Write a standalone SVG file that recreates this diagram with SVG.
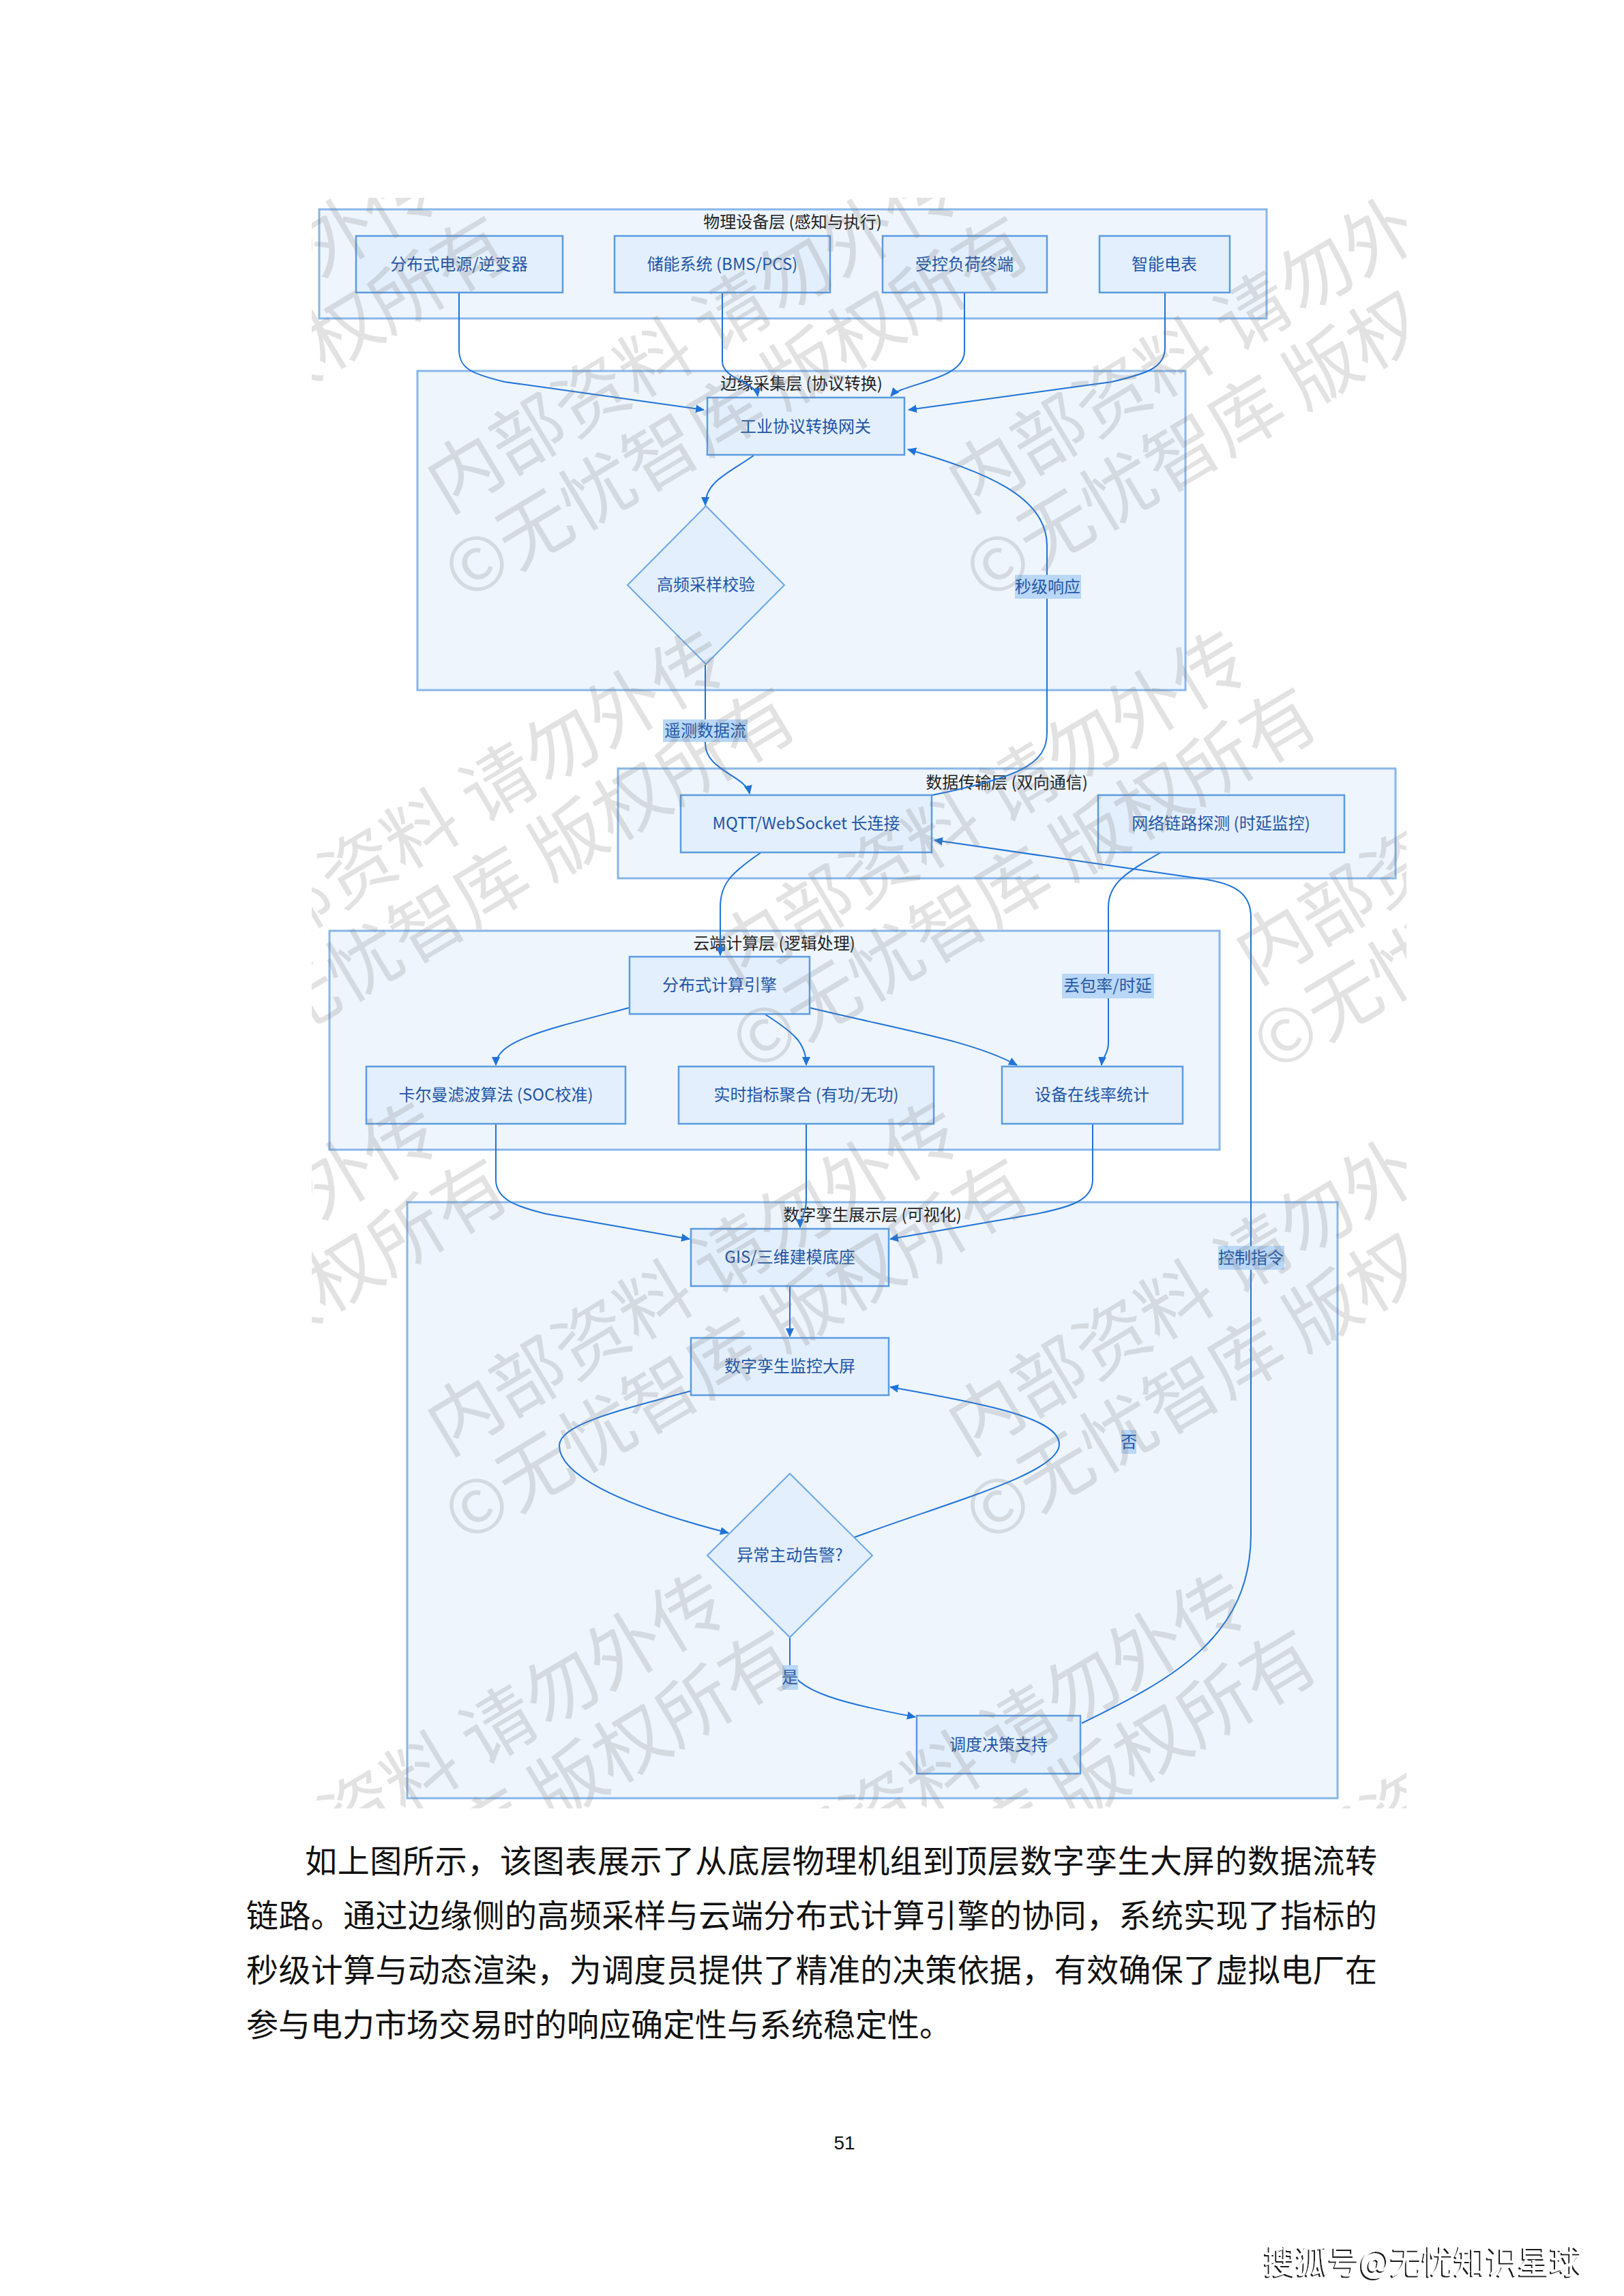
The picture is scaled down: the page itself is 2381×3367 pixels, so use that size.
<svg xmlns="http://www.w3.org/2000/svg" width="2381" height="3367" viewBox="0 0 2381 3367">
<style>
.layer{fill:#eef5fd;stroke:#88b6e9;stroke-width:3}
.node{fill:#e3effc;stroke:#5b9be1;stroke-width:2.5}
.dia{fill:#e3effc;stroke:#6aa7e6;stroke-width:2}
.lt{font-family:"Noto Sans CJK SC","Noto Sans",sans-serif;font-size:24px;fill:#222;text-anchor:middle}
.nt{font-family:"Noto Sans CJK SC","Noto Sans",sans-serif;font-size:24px;fill:#1f55a6;text-anchor:middle}
.edge{fill:none;stroke:#1f73d8;stroke-width:2;marker-end:url(#arr)}
.lbg{fill:#b9d7f6}
.lbt{font-family:"Noto Sans CJK SC","Noto Sans",sans-serif;font-size:24px;fill:#2457a6;text-anchor:middle}
.wm{font-family:"Noto Sans CJK SC",sans-serif;font-size:108px;fill:#7a7a7a;fill-opacity:0.22;text-anchor:middle}
.body{font-family:"Noto Sans CJK SC",sans-serif;font-size:47px;fill:#111}
</style>
<defs>
<marker id="arr" markerUnits="userSpaceOnUse" markerWidth="14" markerHeight="12" refX="12" refY="6" orient="auto">
<path d="M0,0 L13,6 L0,12 z" fill="#1f73d8"/>
</marker>
<clipPath id="wmclip"><rect x="457" y="290" width="1605" height="2362"/></clipPath>
<filter id="shadow" x="-5%" y="-20%" width="110%" height="150%">
<feDropShadow dx="-2" dy="2" stdDeviation="0.6" flood-color="#000" flood-opacity="0.9"/>
</filter>
</defs>
<rect x="0" y="0" width="2381" height="3367" fill="#ffffff"/>

<g id="layers">
<g id="layer-physical"><rect class="layer" x="468" y="307" width="1389" height="160"/><text class="lt" x="1162" y="334">物理设备层 (感知与执行)</text></g>
<g id="layer-edge"><rect class="layer" x="612" y="544" width="1126" height="468"/><text class="lt" x="1175" y="571">边缘采集层 (协议转换)</text></g>
<g id="layer-transport"><rect class="layer" x="906" y="1127" width="1140" height="161"/><text class="lt" x="1476" y="1156">数据传输层 (双向通信)</text></g>
<g id="layer-cloud"><rect class="layer" x="483" y="1365" width="1305" height="321"/><text class="lt" x="1135" y="1392">云端计算层 (逻辑处理)</text></g>
<g id="layer-twin"><rect class="layer" x="597" y="1763" width="1364" height="874"/><text class="lt" x="1279" y="1790">数字孪生展示层 (可视化)</text></g>
</g>

<g id="connectors">
<path class="edge" d="M673,429 L673,512 C673,540 690,548 740,560 L1032,601"/>
<path class="edge" d="M1059,429 L1059,530 C1059,556 1108,560 1111,581"/>
<path class="edge" d="M1414,429 L1414,515 C1414,558 1322,562 1306,581"/>
<path class="edge" d="M1708,429 L1708,510 C1708,540 1680,548 1630,560 L1332,601"/>
<path class="edge" d="M1105,668 C1068,694 1034,706 1034,741"/>
<path class="edge" d="M1034,975 L1034,1090 C1034,1130 1094,1138 1099,1164"/>
<path class="edge" d="M1367,1166 C1495,1140 1535,1120 1535,1075 L1535,800 C1535,728 1445,692 1331,659"/>
<path class="edge" d="M1116,1250 C1072,1280 1056,1296 1056,1330 L1056,1401"/>
<path class="edge" d="M1702,1250 C1650,1280 1625,1296 1625,1330 L1625,1530 C1625,1546 1616,1550 1615,1562"/>
<path class="edge" d="M1586,2527 C1720,2462 1834,2400 1834,2250 L1834,1345 C1834,1310 1810,1297 1770,1290 L1370,1232"/>
<path class="edge" d="M922,1478 C800,1510 727,1526 727,1562"/>
<path class="edge" d="M1121,1487 C1165,1515 1182,1530 1182,1562"/>
<path class="edge" d="M1188,1478 C1320,1510 1425,1526 1491,1562"/>
<path class="edge" d="M727,1648 L727,1730 C727,1760 760,1770 800,1780 L1011,1817"/>
<path class="edge" d="M1182,1648 L1182,1760 C1182,1780 1173,1785 1173,1800"/>
<path class="edge" d="M1602,1648 L1602,1730 C1602,1760 1570,1770 1520,1780 L1305,1817"/>
<path class="edge" d="M1158,1886 L1158,1960"/>
<path class="edge" d="M1012,2040 C900,2070 820,2090 820,2120 C820,2160 900,2205 1068,2248"/>
<path class="edge" d="M1251,2255 C1400,2200 1553,2160 1553,2118 C1553,2080 1450,2060 1305,2034"/>
<path class="edge" d="M1158,2402 L1158,2440 C1158,2482 1250,2500 1342,2518"/>
<g id="edge-labels">
<rect class="lbg" x="972" y="1055" width="124" height="33"/><text class="lbt" x="1034" y="1080">遥测数据流</text>
<rect class="lbg" x="1488" y="843" width="97" height="35"/><text class="lbt" x="1536" y="869">秒级响应</text>
<rect class="lbg" x="1557" y="1428" width="135" height="36"/><text class="lbt" x="1624" y="1454">丢包率/时延</text>
<rect class="lbg" x="1786" y="1827" width="97" height="35"/><text class="lbt" x="1834" y="1853">控制指令</text>
<rect class="lbg" x="1644" y="2097" width="22" height="35"/><text class="lbt" x="1655" y="2123">否</text>
<rect class="lbg" x="1147" y="2442" width="23" height="36"/><text class="lbt" x="1158" y="2468">是</text>
</g>
</g>

<g id="nodes">
<g id="n-der"><rect class="node" x="522" y="346" width="303" height="83"/><text class="nt" x="673" y="396">分布式电源/逆变器</text></g>
<g id="n-ess"><rect class="node" x="901" y="346" width="316" height="83"/><text class="nt" x="1059" y="396">储能系统 (BMS/PCS)</text></g>
<g id="n-load"><rect class="node" x="1294" y="346" width="241" height="83"/><text class="nt" x="1414" y="396">受控负荷终端</text></g>
<g id="n-meter"><rect class="node" x="1612" y="346" width="191" height="83"/><text class="nt" x="1707" y="396">智能电表</text></g>
<g id="n-gateway"><rect class="node" x="1037" y="583" width="289" height="84"/><text class="nt" x="1181" y="634">工业协议转换网关</text></g>
<g id="n-sample"><polygon class="dia" points="1035,742 1150,858 1035,974 920,858"/><text class="nt" x="1035" y="866">高频采样校验</text></g>
<g id="n-mqtt"><rect class="node" x="998" y="1166" width="368" height="84"/><text class="nt" x="1182" y="1216">MQTT/WebSocket 长连接</text></g>
<g id="n-probe"><rect class="node" x="1610" y="1166" width="361" height="84"/><text class="nt" x="1790" y="1216">网络链路探测 (时延监控)</text></g>
<g id="n-engine"><rect class="node" x="923" y="1403" width="264" height="84"/><text class="nt" x="1055" y="1453">分布式计算引擎</text></g>
<g id="n-kalman"><rect class="node" x="537" y="1564" width="380" height="84"/><text class="nt" x="727" y="1614">卡尔曼滤波算法 (SOC校准)</text></g>
<g id="n-agg"><rect class="node" x="995" y="1564" width="374" height="84"/><text class="nt" x="1182" y="1614">实时指标聚合 (有功/无功)</text></g>
<g id="n-online"><rect class="node" x="1469" y="1564" width="265" height="84"/><text class="nt" x="1601" y="1614">设备在线率统计</text></g>
<g id="n-gis"><rect class="node" x="1013" y="1802" width="290" height="84"/><text class="nt" x="1158" y="1852">GIS/三维建模底座</text></g>
<g id="n-screen"><rect class="node" x="1013" y="1962" width="290" height="84"/><text class="nt" x="1158" y="2012">数字孪生监控大屏</text></g>
<g id="n-alarm"><polygon class="dia" points="1158,2161 1279,2281 1158,2401 1037,2281"/><text class="nt" x="1158" y="2289">异常主动告警?</text></g>
<g id="n-dispatch"><rect class="node" x="1344" y="2516" width="240" height="85"/><text class="nt" x="1464" y="2567">调度决策支持</text></g>
</g>

<g id="watermark" clip-path="url(#wmclip)">
<g transform="translate(-138,771) rotate(-31)"><text class="wm" x="478" y="0">内部资料 请勿外传</text><text class="wm" x="478" y="124">©无忧智库 版权所有</text></g>
<g transform="translate(626,771) rotate(-31)"><text class="wm" x="478" y="0">内部资料 请勿外传</text><text class="wm" x="478" y="124">©无忧智库 版权所有</text></g>
<g transform="translate(1390,771) rotate(-31)"><text class="wm" x="478" y="0">内部资料 请勿外传</text><text class="wm" x="478" y="124">©无忧智库 版权所有</text></g>
<g transform="translate(-480,1462) rotate(-31)"><text class="wm" x="478" y="0">内部资料 请勿外传</text><text class="wm" x="478" y="124">©无忧智库 版权所有</text></g>
<g transform="translate(284,1462) rotate(-31)"><text class="wm" x="478" y="0">内部资料 请勿外传</text><text class="wm" x="478" y="124">©无忧智库 版权所有</text></g>
<g transform="translate(1048,1462) rotate(-31)"><text class="wm" x="478" y="0">内部资料 请勿外传</text><text class="wm" x="478" y="124">©无忧智库 版权所有</text></g>
<g transform="translate(1812,1462) rotate(-31)"><text class="wm" x="478" y="0">内部资料 请勿外传</text><text class="wm" x="478" y="124">©无忧智库 版权所有</text></g>
<g transform="translate(-138,2153) rotate(-31)"><text class="wm" x="478" y="0">内部资料 请勿外传</text><text class="wm" x="478" y="124">©无忧智库 版权所有</text></g>
<g transform="translate(626,2153) rotate(-31)"><text class="wm" x="478" y="0">内部资料 请勿外传</text><text class="wm" x="478" y="124">©无忧智库 版权所有</text></g>
<g transform="translate(1390,2153) rotate(-31)"><text class="wm" x="478" y="0">内部资料 请勿外传</text><text class="wm" x="478" y="124">©无忧智库 版权所有</text></g>
<g transform="translate(-480,2844) rotate(-31)"><text class="wm" x="478" y="0">内部资料 请勿外传</text><text class="wm" x="478" y="124">©无忧智库 版权所有</text></g>
<g transform="translate(284,2844) rotate(-31)"><text class="wm" x="478" y="0">内部资料 请勿外传</text><text class="wm" x="478" y="124">©无忧智库 版权所有</text></g>
<g transform="translate(1048,2844) rotate(-31)"><text class="wm" x="478" y="0">内部资料 请勿外传</text><text class="wm" x="478" y="124">©无忧智库 版权所有</text></g>
<g transform="translate(1812,2844) rotate(-31)"><text class="wm" x="478" y="0">内部资料 请勿外传</text><text class="wm" x="478" y="124">©无忧智库 版权所有</text></g>
</g>

<g id="body-text">
<text class="body" x="447" y="2746" textLength="1572" lengthAdjust="spacing">如上图所示，该图表展示了从底层物理机组到顶层数字孪生大屏的数据流转</text>
<text class="body" x="361" y="2826" textLength="1658" lengthAdjust="spacing">链路。通过边缘侧的高频采样与云端分布式计算引擎的协同，系统实现了指标的</text>
<text class="body" x="361" y="2906" textLength="1658" lengthAdjust="spacing">秒级计算与动态渲染，为调度员提供了精准的决策依据，有效确保了虚拟电厂在</text>
<text class="body" x="361" y="2986">参与电力市场交易时的响应确定性与系统稳定性。</text>
</g>
<text id="page-number" x="1238" y="3152" font-family="Liberation Sans, Arial, sans-serif" font-size="28" fill="#111" text-anchor="middle">51</text>
<text id="source-mark" x="1853" y="3334" textLength="466" lengthAdjust="spacingAndGlyphs" font-family="Noto Sans CJK SC, sans-serif" font-size="48" fill="#ffffff" filter="url(#shadow)">搜狐号@无忧知识星球</text>
</svg>
